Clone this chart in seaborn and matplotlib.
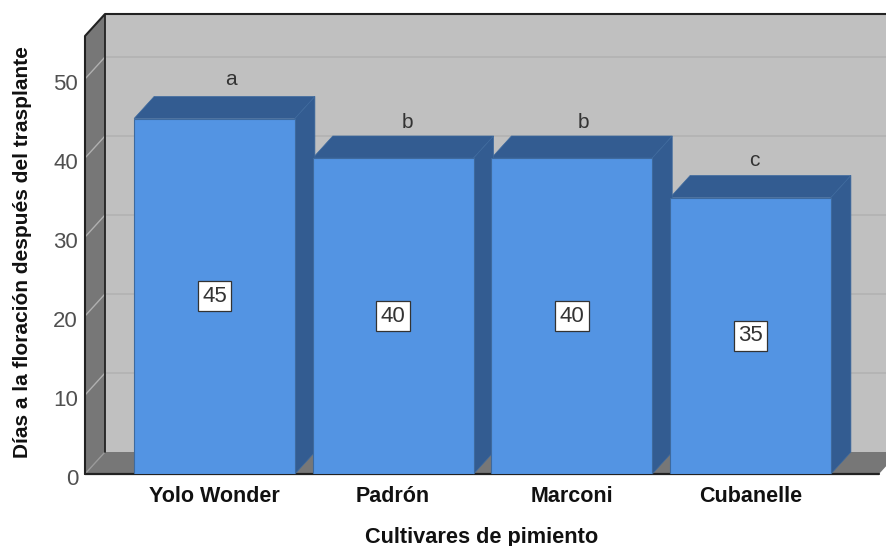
import matplotlib
matplotlib.use("Agg")
import matplotlib.pyplot as plt
import matplotlib.transforms as mtransforms
from matplotlib.patches import Polygon
import seaborn as sns

cultivars = ["Yolo Wonder", "Padrón", "Marconi", "Cubanelle"]
days = [45, 40, 40, 35]
letters = ["a", "b", "b", "c"]
y_ticks = [0, 10, 20, 30, 40, 50]

FRONT = "#5394E3"
SHADE = "#335C91"
EDGE = "#3E6A9E"
WALL = "#C0C0C0"
FLOOR = "#777777"
GRID = "#B0B0B0"
DARK = "#222222"
TICK_TEXT = "#505050"

W, H = 886, 546
LEFT, BOTTOM, TOP = 85, 474, 14        # plot frame, in pixels from the top left
DEPTH_X, DEPTH_Y = 20, 22              # perspective shift of the back plane, pixels
PX_PER_DAY = 7.9
PX_PER_CAT = 178.67
FIRST_CENTER = 214.5
LETTER_SHIFT = [16, 14, 11.5, 4]       # pixels right of each bar centre
LETTER_RISE = [17, 13, 13, 15]         # pixels above each bar's back edge

sns.set_theme(style="white")
plt.rcParams["font.family"] = ["Liberation Sans", "DejaVu Sans"]

fig = plt.figure(figsize=(W / 100, H / 100), dpi=100, facecolor="white")
ax = fig.add_axes([LEFT / W, (H - BOTTOM) / H, (W - LEFT) / W, (BOTTOM - TOP) / H])
ax.patch.set_alpha(0)

sns.barplot(x=cultivars, y=days, color=FRONT, saturation=1, width=0.9, ax=ax,
            edgecolor=EDGE, linewidth=0.8, zorder=6)
bars = list(ax.patches)

ax.set_xlim((LEFT - FIRST_CENTER) / PX_PER_CAT, (W - FIRST_CENTER) / PX_PER_CAT)
ax.set_ylim(0, (BOTTOM - TOP) / PX_PER_DAY)

dx = DEPTH_X / PX_PER_CAT
dy = DEPTH_Y / PX_PER_DAY
x0, x1 = ax.get_xlim()
y_top = ax.get_ylim()[1]
front_top = y_top - dy
x_end = x0 + (879 - LEFT) / PX_PER_CAT


def face(points, color, z, edge=None, lw=0.0):
    ax.add_patch(Polygon(points, closed=True, facecolor=color, edgecolor=edge or color,
                         linewidth=lw, zorder=z, clip_on=False))


# Back wall, left wall and floor of the box
face([(x0 + dx, dy), (x1, dy), (x1, y_top), (x0 + dx, y_top)], WALL, 0)
face([(x0, 0), (x0 + dx, dy), (x0 + dx, y_top), (x0, front_top)], FLOOR, 1)
face([(x0, 0), (x_end, 0), (x_end + dx, dy), (x0 + dx, dy)], FLOOR, 1)

# Gridlines wrap from the left wall onto the back wall
for v in y_ticks[1:]:
    ax.plot([x0, x0 + dx, x1], [v, v + dy, v + dy], color=GRID, lw=1.0, zorder=2,
            solid_joinstyle="miter")
ax.plot([x0, x0 + dx], [0, dy], color="#9A9A9A", lw=1.0, zorder=2)

# Box outline
ax.plot([x0, x0, x0 + dx, x1], [0, front_top, y_top, y_top], color=DARK, lw=1.5, zorder=3,
        clip_on=False)
ax.plot([x0 + dx, x0 + dx], [dy, y_top], color=DARK, lw=1.3, zorder=3)
ax.plot([x0, x_end], [0, 0], color=DARK, lw=1.6, zorder=3, clip_on=False)

# Top and side faces of each bar, with value box and significance letter
for i, (bar, value, letter) in enumerate(zip(bars, days, letters)):
    left = bar.get_x()
    right = left + bar.get_width()
    height = bar.get_height()
    z = 5 - i * 0.1
    face([(left, height), (right, height), (right + dx, height + dy), (left + dx, height + dy)],
         SHADE, z, EDGE, 0.5)
    face([(right, 0), (right + dx, dy), (right + dx, height + dy), (right, height)],
         SHADE, z, EDGE, 0.5)
    cx = left + bar.get_width() / 2
    ax.text(cx, height / 2, str(value), ha="center", va="center", fontsize=16,
            color="#333333", zorder=8,
            bbox=dict(boxstyle="square,pad=0.2", facecolor="white", edgecolor="#333333", linewidth=0.9))
    ax.annotate(letter, (cx, height + dy), xytext=(LETTER_SHIFT[i] * 0.72, LETTER_RISE[i] * 0.72),
                textcoords="offset points", ha="center", va="center", fontsize=15,
                color="#333333", zorder=8)

ax.set_yticks(y_ticks)
ax.set_xticks(range(len(cultivars)))
ax.set_xticklabels(cultivars, fontsize=15.5, fontweight="bold", color="#111111")
ax.tick_params(axis="x", length=0, pad=8.5)
ax.tick_params(axis="y", length=0, pad=5, labelsize=16, labelcolor=TICK_TEXT)
shift = mtransforms.ScaledTranslation(0, -3 / 72 * 0.72, fig.dpi_scale_trans)
for lab in ax.get_yticklabels():
    lab.set_transform(lab.get_transform() + shift)
ax.grid(False)
sns.despine(ax=ax, left=True, bottom=True, right=True, top=True)

fig.text(23 / W, 1 - 252 / H, "Días a la floración después del trasplante", rotation=90,
         ha="center", va="center", fontsize=15, fontweight="bold", color="#111111")
fig.text(482 / W, 1 - 537 / H, "Cultivares de pimiento", ha="center", va="center",
         fontsize=15.7, fontweight="bold", color="#111111")

fig.savefig("out.png", dpi=100)
